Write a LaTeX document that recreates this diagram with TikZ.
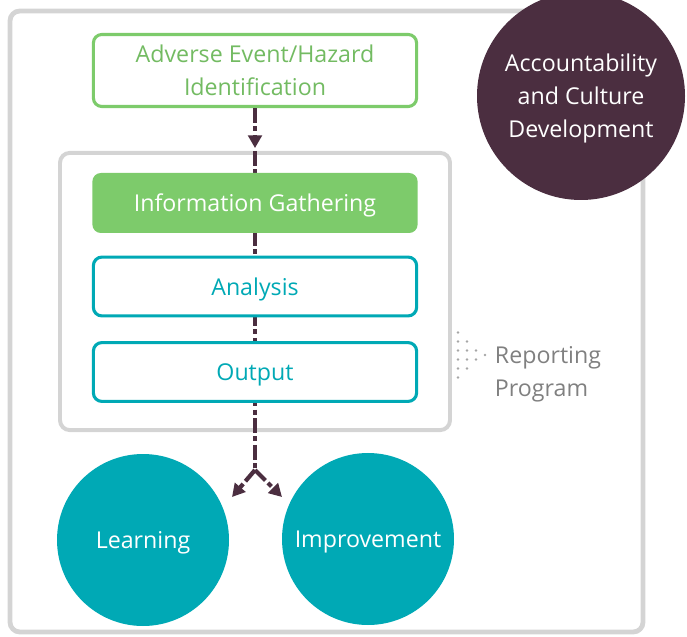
\documentclass[tikz,border=0pt]{standalone}
\usepackage{tkz-euclide}
\usepackage{fontspec}
\setmainfont{Open Sans}
\usetikzlibrary{arrows.meta}
\definecolor{hazGreen}{HTML}{7DCB6B}
\definecolor{hazTeal}{HTML}{00A9B5}
\definecolor{hazPlum}{HTML}{4B2E40}
\definecolor{hazGray}{HTML}{D4D4D4}
\definecolor{hazText}{HTML}{808080}
\newcommand{\myStep}[3]{
\node[#2] (b#1) at (#1) {#3};
}

\begin{document}
\begin{tikzpicture}[
	every node/.style={font=\fontsize{16.5}{23.5}\selectfont, align=center},
	frame/.style={draw=hazGray, line width=3.4pt, rounded corners=7pt},
	stepbox/.style={draw=hazTeal, line width=2.2pt, rounded corners=6pt, fill=white,
		text=hazTeal, minimum width=8.08cm, minimum height=1.47cm, inner sep=0pt, text depth=0pt},
	hazbox/.style={stepbox, draw=hazGreen, text=hazGreen!92!black, minimum height=1.8cm},
	gatherbox/.style={stepbox, draw=none, fill=hazGreen, text=white, minimum width=8.13cm, minimum height=1.5cm},
	blob/.style={circle, fill=#1, text=white, inner sep=0pt, text depth=0pt},
	link/.style={draw=hazPlum, line width=3pt, dash pattern=on 10.5pt off 2.5pt on 3.5pt off 2.5pt},
	tip/.style={-{Triangle[length=3.2mm,width=3.4mm]}}
]
	\useasboundingbox (0,0) rectangle (17.175,15.9);
	\tkzDefPoints{0.25/0.1/O1, 16.075/15.625/O2, 6.375/8.6125/I,
		6.375/14.1375/A, 6.375/10.825/G, 6.375/8.7375/N, 6.375/6.6/U,
		14.525/13.5/C, 3.575/2.4/L, 9.2/2.425/M,
		6.375/4.15/F, 5.8/3.475/tipL, 7.05/3.475/tipR, 12.25/6.535/R}

	% frames
	\draw[frame] (O1) rectangle (O2);
	\node[frame, minimum width=9.75cm, minimum height=6.93cm, line width=2.8pt] (inner) at (I) {};
	\myStep{C}{blob=hazPlum, minimum size=5.2cm}{Accountability\\and Culture\\Development}

	% flow line behind the boxes
	\draw[link] (inner.north) -- (F);

	\myStep{A}{hazbox}{Adverse Event/Hazard\\Identification}
	\myStep{G}{gatherbox}{Information Gathering}
	\myStep{N}{stepbox}{Analysis}
	\myStep{U}{stepbox}{Output}
	\myStep{L}{blob=hazTeal, minimum size=4.3cm}{Learning}
	\myStep{M}{blob=hazTeal, minimum size=4.3cm}{Improvement}

	\draw[link, tip, shorten >=2pt] (bA) -- (inner);
	\draw[link, tip] (F) -- (tipL);
	\draw[link, tip] (F) -- (tipR);

	% reporting program
	\foreach \i/\n in {0/6, 1/4, 2/2, 3/1}
		\foreach \k in {1,...,\n}
			\fill[hazText!70] ($(R)+(-0.8+0.225*\i, 0.49+0.225*\k-0.1125*\n-0.1125)$) circle (0.035);
	\node[anchor=west, align=left, text=hazText] (report) at (R) {Reporting\\Program};
\end{tikzpicture}
\end{document}
